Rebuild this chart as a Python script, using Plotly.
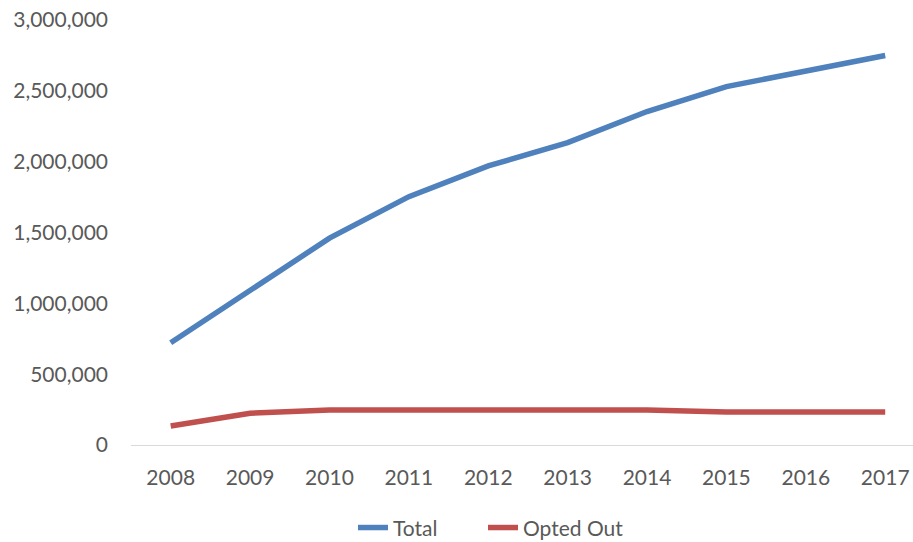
import plotly.graph_objects as go

years = ["2008", "2009", "2010", "2011", "2012", "2013", "2014", "2015", "2016", "2017"]
total = [722000, 1090000, 1460000, 1753000, 1970000, 2135000, 2354000, 2530000, 2636000, 2749000]
opted_out = [134000, 224000, 247000, 247000, 256000, 247000, 247000, 233000, 233000, 233000]
y_ticks = [0, 500000, 1000000, 1500000, 2000000, 2500000, 3000000]

font_family = "Lato, 'Open Sans', sans-serif"
text_color = "#595959"

fig = go.Figure()
fig.add_trace(go.Scatter(
    x=years, y=total, name="Total", mode="lines", legend="legend",
    line=dict(color="#4F81BD", width=5.5, shape="linear"),
))
fig.add_trace(go.Scatter(
    x=years, y=opted_out, name="Opted Out", mode="lines", legend="legend2",
    line=dict(color="#C0504D", width=5.5, shape="linear"),
))

legend_style = dict(
    orientation="h", xref="container", xanchor="left",
    yref="paper", y=-0.195, yanchor="middle",
    font=dict(size=21, color=text_color), bgcolor="rgba(0,0,0,0)",
)

fig.update_layout(
    width=913, height=542,
    margin=dict(l=131, r=0, t=20, b=97, autoexpand=False),
    paper_bgcolor="white", plot_bgcolor="white",
    font=dict(family=font_family, size=21, color=text_color),
    showlegend=True,
    legend=dict(x=353 / 913, **legend_style),
    legend2=dict(x=483 / 913, **legend_style),
    xaxis=dict(
        type="category", range=[-0.5, 9.35],
        showgrid=False, showline=True, linecolor="#D9D9D9", linewidth=1.3,
        ticks="", tickangle=0, tickfont=dict(size=21, color=text_color),
        ticklabelstandoff=14, zeroline=False, fixedrange=True, automargin=False,
    ),
    yaxis=dict(
        range=[0, 3000000], tickvals=y_ticks,
        tickformat=",d", showgrid=False, showline=False, zeroline=False,
        ticks="", tickfont=dict(size=21, color=text_color), ticklabelstandoff=22,
        fixedrange=True, automargin=False,
    ),
)

fig.write_html("out.html")
